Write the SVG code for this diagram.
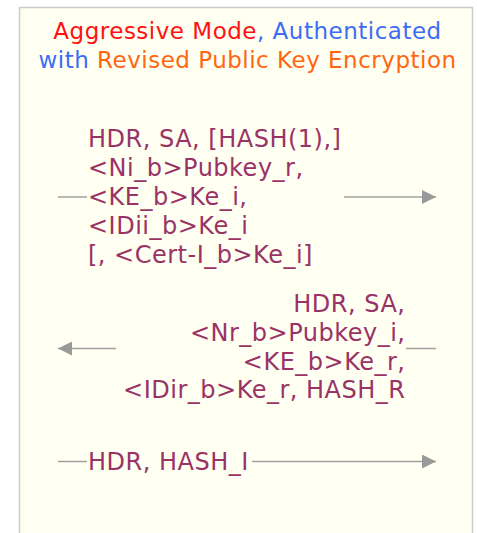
<svg xmlns="http://www.w3.org/2000/svg" width="477" height="533" viewBox="0 0 477 533">
<style>
  text { font-family: "DejaVu Sans", Verdana, sans-serif; font-size: 23px; letter-spacing: 0.5px; }
  .msg { fill: #993366; font-size: 24px; }
  .red { fill: #ff1111; }
  .blue { fill: #3d6cf5; }
  .orange { fill: #ff6611; }
  .conn line { stroke: #a0a0a0; stroke-width: 1.5; fill: none; }
</style>
<defs>
  <marker id="ah" viewBox="0 0 14 14" refX="14" refY="7" markerWidth="14" markerHeight="14" markerUnits="userSpaceOnUse" orient="auto">
    <path d="M0,0 L14,7 L0,14 Z" fill="#999999"/>
  </marker>
</defs>
<rect id="frame" x="19.5" y="7.5" width="453" height="540" fill="#fffff2" stroke="#cccccc" stroke-width="1.5"/>
<g id="title">
  <text x="247.5" y="39" text-anchor="middle"><tspan class="red">Aggressive Mode</tspan><tspan class="blue">, Authenticated</tspan></text>
  <text x="247.5" y="68" text-anchor="middle"><tspan class="blue">with </tspan><tspan class="orange">Revised Public Key Encryption</tspan></text>
</g>
<g class="conn" id="connectors">
  <line x1="58" y1="197" x2="87" y2="197"/>
  <line x1="344" y1="197" x2="436" y2="197" marker-end="url(#ah)"/>
  <line x1="116" y1="348.5" x2="58" y2="348.5" marker-end="url(#ah)"/>
  <line x1="436" y1="348.5" x2="406" y2="348.5"/>
  <line x1="58" y1="461.5" x2="87" y2="461.5"/>
  <line x1="252" y1="461.5" x2="436" y2="461.5" marker-end="url(#ah)"/>
</g>
<g id="msg1">
  <text class="msg" x="88" y="147">HDR, SA, [HASH(1),]</text>
  <text class="msg" x="88" y="176">&lt;Ni_b&gt;Pubkey_r,</text>
  <text class="msg" x="88" y="205">&lt;KE_b&gt;Ke_i,</text>
  <text class="msg" x="88" y="234">&lt;IDii_b&gt;Ke_i</text>
  <text class="msg" x="88" y="263">[, &lt;Cert-I_b&gt;Ke_i]</text>
</g>
<g id="msg2">
  <text class="msg" x="405.5" y="312" text-anchor="end">HDR, SA,</text>
  <text class="msg" x="405.5" y="341" text-anchor="end">&lt;Nr_b&gt;Pubkey_i,</text>
  <text class="msg" x="405.5" y="370" text-anchor="end">&lt;KE_b&gt;Ke_r,</text>
  <text class="msg" x="405.5" y="398" text-anchor="end">&lt;IDir_b&gt;Ke_r, HASH_R</text>
</g>
<g id="msg3">
  <text class="msg" x="88" y="469.5">HDR, HASH_I</text>
</g>
</svg>
